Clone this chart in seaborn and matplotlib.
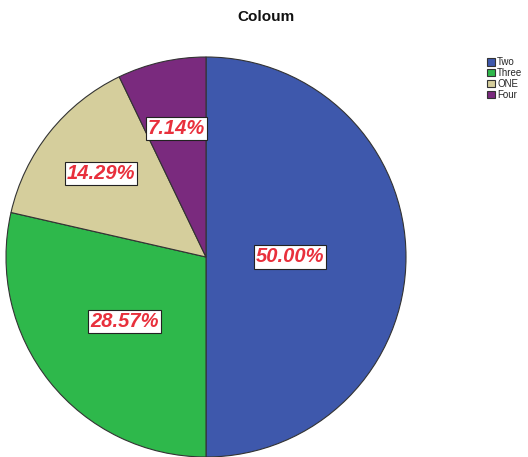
import numpy as np
import matplotlib
matplotlib.use("Agg")
import matplotlib.pyplot as plt
import seaborn as sns

# data
categories = ["Two", "Three", "ONE", "Four"]
counts = [7, 4, 2, 1]
colors = ["#3E58AC", "#2EB84B", "#D5CE9C", "#7A2A7E"]

sns.set_theme(style="white")
plt.rcParams["font.family"] = ["Liberation Sans", "DejaVu Sans"]

fig = plt.figure(figsize=(5.28, 4.57), dpi=100)
ax = fig.add_axes([206 / 528 - 200 / 528, 0.0, 400 / 528, 400 / 457])

wedges, _ = ax.pie(counts, colors=colors, startangle=90, counterclock=False,
                   wedgeprops=dict(edgecolor="#333333", linewidth=0.8))
ax.set_xlim(-1, 1)
ax.set_ylim(-1, 1)
ax.set_aspect("auto")

total = sum(counts)
dists = [0.42, 0.52, 0.67, 0.66]
for w, c, d in zip(wedges, counts, dists):
    ang = np.deg2rad((w.theta1 + w.theta2) / 2)
    ax.text(d * np.cos(ang), d * np.sin(ang), f"{100 * c / total:.2f}%",
            ha="center", va="center", color="#E8303C", fontsize=14.5,
            fontweight="bold", fontstyle="italic",
            bbox=dict(boxstyle="square,pad=0.1", facecolor="white",
                      edgecolor="#222222", linewidth=0.8))

fig.text(266 / 528, 1 - 17 / 457, "Coloum", ha="center", va="center",
         fontsize=11, fontweight="bold", color="#111111")

leg = fig.legend(wedges, categories, loc="upper left",
                 bbox_to_anchor=(487 / 528, 1 - 57 / 457), frameon=False,
                 fontsize=7, handlelength=0.85, handleheight=0.85,
                 handletextpad=0.2, labelspacing=0.1, borderaxespad=0,
                 borderpad=0)

fig.savefig("out.png", dpi=100)
